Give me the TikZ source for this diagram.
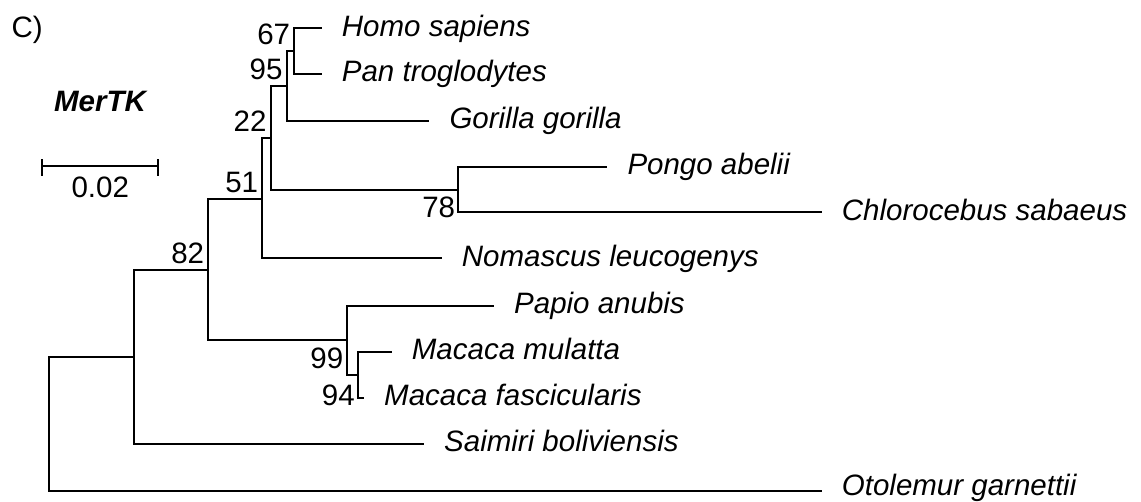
\documentclass[tikz,border=0pt]{standalone}
\usepackage{fontspec}
\setmainfont{Liberation Sans}
\tikzset{
  branch/.style={line width=2pt, black},
  taxon/.style={anchor=base west, inner sep=0pt, xshift=20pt, yshift=-8pt,
    font=\fontsize{29.5}{34}\selectfont\itshape},
  boot/.style={inner sep=0pt, font=\fontsize{29.5}{34}\selectfont},
  bootup/.style={boot, anchor=base east, xshift=-4pt, yshift=6.5pt},
  bootdown/.style={boot, anchor=north east, xshift=-3pt, yshift=-7pt},
}
\begin{document}
\begin{tikzpicture}[x=1pt, y=-1pt]
    \useasboundingbox (0,0) rectangle (1141,502);

    % Заголовок и ген
    \node[anchor=base west, inner sep=0pt, font=\fontsize{29.5}{34}\selectfont] (panel) at (11.5,37.5) {C)};
    \node[anchor=base, inner sep=0pt, font=\fontsize{29.5}{34}\selectfont\bfseries\itshape] (gene) at (100,111.7) {MerTK};

    % Масштаб
    \coordinate (sbL) at (42.3,165.7);
    \coordinate (sbR) at (158.3,165.7);
    \draw[branch] (sbL) -- (sbR);
    \draw[branch] ([yshift=6.4pt]sbL) -- ([yshift=-10.3pt]sbL);
    \draw[branch] ([yshift=6.4pt]sbR) -- ([yshift=-10.3pt]sbR);
    \node[boot, anchor=north] (sbLab) at (100.3,176.7) {0.02};

    % Внутренние узлы
    \coordinate (root) at (48.7,423.7);
    \coordinate (nSai) at (134.3,356.7);
    \coordinate (n82) at (208.3,269.9);
    \coordinate (n51) at (262.3,199.3);
    \coordinate (n22) at (270.7,138.3);
    \coordinate (n95) at (286.7,86.2);
    \coordinate (n67) at (294.3,51.2);
    \coordinate (n78) at (458.3,189.8);
    \coordinate (n99) at (346.5,340.5);
    \coordinate (n94) at (358.0,374.7);

    % Листья
    \coordinate (tHom) at (321.7,28.3);
    \coordinate (tPan) at (321.7,74.0);
    \coordinate (tGor) at (429.3,120.7);
    \coordinate (tPon) at (607.3,167.0);
    \coordinate (tChl) at (821.7,212.5);
    \coordinate (tNom) at (441.7,258.3);
    \coordinate (tPap) at (494.0,306.0);
    \coordinate (tMul) at (391.7,351.7);
    \coordinate (tFas) at (364.0,397.7);
    \coordinate (tSai) at (424.0,444.0);
    \coordinate (tOto) at (821.7,490.7);

    % Ветви
    \draw[branch] (root) |- (nSai);
    \draw[branch] (root) |- (tOto);
    \draw[branch] (nSai) |- (n82);
    \draw[branch] (nSai) |- (tSai);
    \draw[branch] (n82) |- (n51);
    \draw[branch] (n82) |- (n99);
    \draw[branch] (n51) |- (n22);
    \draw[branch] (n51) |- (tNom);
    \draw[branch] (n22) |- (n95);
    \draw[branch] (n22) |- (n78);
    \draw[branch] (n95) |- (n67);
    \draw[branch] (n95) |- (tGor);
    \draw[branch] (n67) |- (tHom);
    \draw[branch] (n67) |- (tPan);
    \draw[branch] (n78) |- (tPon);
    \draw[branch] (n78) |- (tChl);
    \draw[branch] (n99) |- (tPap);
    \draw[branch] (n99) |- (n94);
    \draw[branch] (n94) |- (tMul);
    \draw[branch] (n94) |- (tFas);

    % Названия видов
    \node[taxon] (lHom) at (tHom) {Homo sapiens};
    \node[taxon] (lPan) at (tPan) {Pan troglodytes};
    \node[taxon] (lGor) at (tGor) {Gorilla gorilla};
    \node[taxon] (lPon) at (tPon) {Pongo abelii};
    \node[taxon] (lChl) at (tChl) {Chlorocebus sabaeus};
    \node[taxon] (lNom) at (tNom) {Nomascus leucogenys};
    \node[taxon] (lPap) at (tPap) {Papio anubis};
    \node[taxon] (lMul) at (tMul) {Macaca mulatta};
    \node[taxon] (lFas) at (tFas) {Macaca fascicularis};
    \node[taxon] (lSai) at (tSai) {Saimiri boliviensis};
    \node[taxon, yshift=3.5pt] (lOto) at (tOto) {Otolemur garnettii};

    % Бутстрэп
    \node[bootup] (b67) at (n67) {67};
    \node[bootup] (b95) at (n95) {95};
    \node[bootup] (b22) at (n22) {22};
    \node[bootup] (b51) at (n51) {51};
    \node[bootup] (b82) at (n82) {82};
    \node[bootdown] (b78) at (n78) {78};
    \node[bootdown] (b99) at (n99) {99};
    \node[bootdown, yshift=-3pt] (b94) at (n94) {94};
\end{tikzpicture}
\end{document}
